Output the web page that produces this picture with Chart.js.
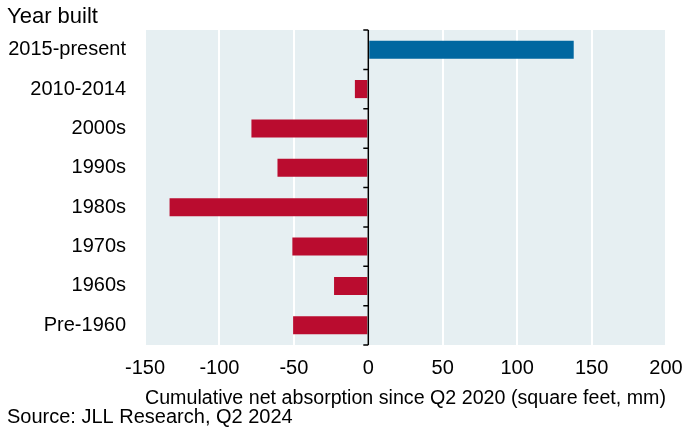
<!DOCTYPE html>
<html>
<head>
<meta charset="utf-8">
<script src="https://cdn.jsdelivr.net/npm/chart.js@4/dist/chart.umd.min.js"></script>
<style>
  html, body { margin: 0; padding: 0; background: #fff; }
  #wrap { width: 685px; height: 434px; }
</style>
</head>
<body>
<div id="wrap"><canvas id="c" width="685" height="434"></canvas></div>
<script>
const categories = ["2015-present", "2010-2014", "2000s", "1990s", "1980s", "1970s", "1960s", "Pre-1960"];
const absorption = [138, -9, -78.5, -61, -133.5, -51, -23, -50.5];
const xTicks = [-150, -100, -50, 0, 50, 100, 150, 200];
const yAxisLabel = "Year built";
const xAxisLabel = "Cumulative net absorption since Q2 2020 (square feet, mm)";
const sourceText = "Source: JLL Research, Q2 2024";

const FONT = "'Liberation Sans', Arial, sans-serif";
const RED = "#BA0C2F";
const BLUE = "#0067A0";
const PLOT_BG = "#E6EFF2";

const bgPlugin = {
  id: "plotBg",
  beforeDraw(chart) {
    const { ctx, chartArea: a } = chart;
    ctx.save();
    ctx.fillStyle = PLOT_BG;
    ctx.fillRect(a.left, a.top, a.right - a.left, a.bottom - a.top);
    ctx.restore();
  }
};

const zeroAxisPlugin = {
  id: "zeroAxis",
  afterDatasetsDraw(chart) {
    const { ctx, chartArea: a, scales } = chart;
    const x0 = scales.x.getPixelForValue(0);
    const ys = scales.y;
    const n = categories.length;
    const step = (ys.getPixelForValue(n - 1) - ys.getPixelForValue(0)) / (n - 1);
    ctx.save();
    ctx.strokeStyle = "#000";
    ctx.lineWidth = 1.5;
    ctx.beginPath();
    ctx.moveTo(x0, a.top);
    ctx.lineTo(x0, a.bottom);
    for (let i = 0; i <= n; i++) {
      const y = ys.getPixelForValue(0) - step / 2 + i * step;
      ctx.moveTo(x0 - 5, y);
      ctx.lineTo(x0, y);
    }
    ctx.stroke();
    ctx.restore();
  }
};

const textPlugin = {
  id: "extraText",
  afterDraw(chart) {
    const { ctx } = chart;
    ctx.save();
    ctx.fillStyle = "#000";
    ctx.textAlign = "left";
    ctx.textBaseline = "alphabetic";
    ctx.font = "22px " + FONT;
    ctx.fillText(yAxisLabel, 7, 23);
    ctx.font = "20px " + FONT;
    ctx.fillText(sourceText, 7, 423);
    ctx.restore();
  }
};

new Chart(document.getElementById("c"), {
  type: "bar",
  data: {
    labels: categories,
    datasets: [{
      data: absorption,
      backgroundColor: absorption.map(v => v >= 0 ? BLUE : RED),
      borderWidth: 0,
      barPercentage: 0.46,
      categoryPercentage: 1.0
    }]
  },
  options: {
    indexAxis: "y",
    responsive: false,
    animation: false,
    devicePixelRatio: 1,
    layout: { padding: { top: 30, right: 19, bottom: 24, left: 0 } },
    plugins: { legend: { display: false }, tooltip: { enabled: false }, title: { display: false } },
    scales: {
      x: {
        min: -150,
        max: 200,
        afterBuildTicks(scale) { scale.ticks = xTicks.map(v => ({ value: v })); },
        afterFit(scale) { scale.height = 65; scale.paddingLeft = 0; scale.paddingRight = 0; },
        grid: { color: "#FFFFFF", lineWidth: 2, drawTicks: false },
        border: { display: false },
        ticks: { color: "#000", padding: 11, font: { family: FONT, size: 20 }, maxRotation: 0, autoSkip: false },
        title: { display: true, text: xAxisLabel, color: "#000", font: { family: FONT, size: 20 }, padding: 0 }
      },
      y: {
        afterFit(scale) { scale.width = 145; scale.paddingTop = 0; scale.paddingBottom = 0; },
        grid: { display: false, drawTicks: false },
        border: { display: false },
        ticks: { color: "#000", padding: 19, font: { family: FONT, size: 20 }, autoSkip: false }
      }
    }
  },
  plugins: [bgPlugin, zeroAxisPlugin, textPlugin]
});
</script>
</body>
</html>
